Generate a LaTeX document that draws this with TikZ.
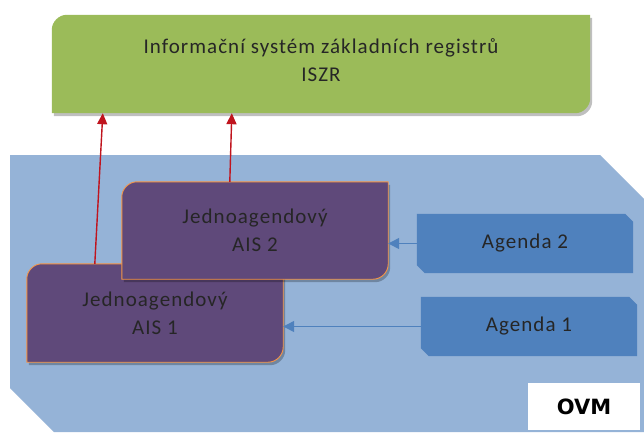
\documentclass[tikz,border=0pt]{standalone}
\usepackage{fontspec}
\setmainfont{Carlito}[LetterSpace=5.0]
\newfontfamily\ovmfont{DejaVu Sans}
\usetikzlibrary{arrows.meta}
\pgfdeclarelayer{back}
\pgfsetlayers{back,main}
\definecolor{iszgreen}{HTML}{9BBB59}
\definecolor{ovmblue}{HTML}{95B3D7}
\definecolor{aispurple}{HTML}{5F497A}
\definecolor{aisorange}{HTML}{F79646}
\definecolor{agblue}{HTML}{4F81BD}
\definecolor{arrred}{HTML}{C0141E}
% #1 node, #2 radius, #3 control offset, #4 style
\newcommand{\rdfill}[4]{%
  \fill[#4] (#1.south west) -- ([yshift=-#2]#1.north west)
    .. controls ([yshift=-#3]#1.north west) and ([xshift=#3]#1.north west) .. ([xshift=#2]#1.north west)
    -- (#1.north east) -- ([yshift=#2]#1.south east)
    .. controls ([yshift=#3]#1.south east) and ([xshift=-#3]#1.south east) .. ([xshift=-#2]#1.south east)
    -- cycle;}
\newcommand{\snipfill}[3]{%
  \fill[#3] (#1.north west) -- ([xshift=-#2]#1.north east) -- ([yshift=-#2]#1.north east) -- (#1.south east) -- ([xshift=#2]#1.south west) -- ([yshift=#2]#1.south west) -- cycle;}
\begin{document}
\begin{tikzpicture}[x=1pt,y=-1pt,
  boxnode/.style={inner sep=0pt, align=center, text=black!85,
    font=\fontsize{21}{28}\selectfont},
  shadowfill/.style={fill=black, opacity=0.25, transform canvas={shift={(2pt,-3pt)}}},
  redarrow/.style={draw=arrred, line width=1.4pt, -{Triangle[length=11pt,width=10pt]}},
  bluearrow/.style={draw=agblue, line width=1.3pt, -{Triangle[length=11pt,width=11pt]}}]
\useasboundingbox (0,0) rectangle (644,432);

\node[boxnode, minimum width=538pt, minimum height=98pt, text depth=8pt] (isz) at (321,64)
  {Informační systém základních registrů\\ISZR};
\node[boxnode, minimum width=266pt, minimum height=97pt] (ais2) at (255,230.5)
  {Jednoagendový\\AIS 2};
\node[boxnode, minimum width=256pt, minimum height=98pt] (ais1) at (155,313)
  {Jednoagendový\\AIS 1};
\node[boxnode, minimum width=216pt, minimum height=59pt] (ag2) at (525,243.5) {Agenda 2};
\node[boxnode, minimum width=216pt, minimum height=59pt] (ag1) at (529,326.5) {Agenda 1};

\begin{pgfonlayer}{back}
  \fill[white] (0,0) rectangle (644,432);
  \fill[ovmblue] (10,155) -- (600,155) -- (644,199) -- (644,432) -- (54,432) -- (10,388) -- cycle;
  \rdfill{isz}{15pt}{7pt}{shadowfill}
  \rdfill{isz}{15pt}{7pt}{iszgreen}
  \rdfill{ais1}{15pt}{7pt}{shadowfill}
  \rdfill{ais1}{15pt}{7pt}{aispurple, draw=aisorange, line width=0.9pt}
  \rdfill{ais2}{15pt}{7pt}{shadowfill}
  \rdfill{ais2}{15pt}{7pt}{aispurple, draw=aisorange, line width=0.9pt}
  \snipfill{ag2}{8pt}{agblue}
  \snipfill{ag1}{8pt}{agblue}
\end{pgfonlayer}

\node[fill=white, minimum width=112pt, minimum height=47pt, inner sep=0pt,
  font=\ovmfont\bfseries\fontsize{21}{24}\selectfont] (ovm) at (584,406.5) {OVM};

\draw[bluearrow] (ag2.west) -- (ag2.west -| ais2.east);
\draw[bluearrow] (ag1.west) -- (ag1.west -| ais1.east);
\draw[redarrow] ([xshift=68pt]ais1.north west) -- ([xshift=51pt]isz.south west);
\draw[redarrow] ([xshift=108pt]ais2.north west) -- ([xshift=180pt]isz.south west);
\end{tikzpicture}
\end{document}
